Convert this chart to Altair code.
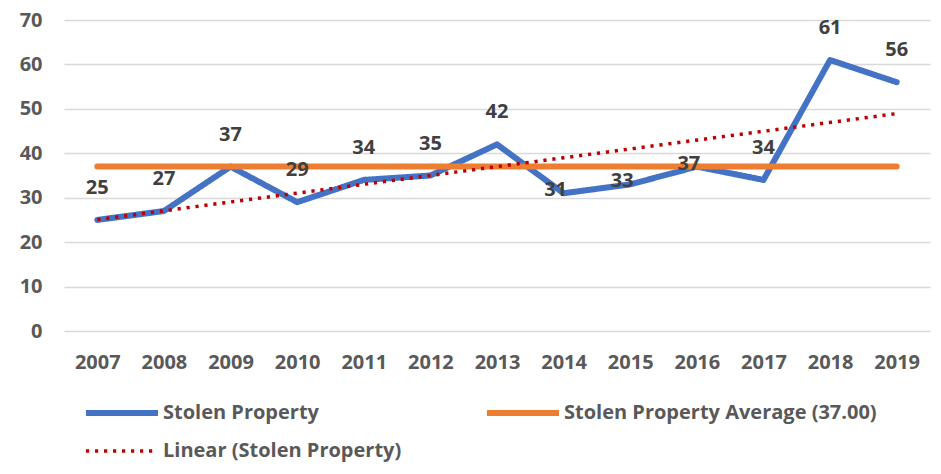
import altair as alt
import pandas as pd

years = [2007, 2008, 2009, 2010, 2011, 2012, 2013, 2014, 2015, 2016, 2017, 2018, 2019]
values = [25, 27, 37, 29, 34, 35, 42, 31, 33, 37, 34, 61, 56]
y_ticks = [0, 10, 20, 30, 40, 50, 60, 70]
series_names = ["Stolen Property", "Stolen Property Average (37.00)", "Linear (Stolen Property)"]
series_colors = ["#4472C4", "#ED7D31", "#C00000"]
series_dashes = [[1, 0], [1, 0], [3.2, 5.8]]
centered_label_years = [2014, 2015, 2016]

df = pd.DataFrame({"year": years, "value": values})

FONT = "Open Sans"
AXIS_GRAY = "#595959"
LABEL_GRAY = "#404040"

x_enc = alt.X(
    "year:Q",
    scale=alt.Scale(domain=[2006.5, 2019.5], nice=False, zero=False),
    axis=alt.Axis(
        values=years, format="d", grid=False, ticks=False, domain=False, title=None,
        labelFont=FONT, labelFontSize=20, labelFontWeight="bold", labelColor=AXIS_GRAY,
        labelPadding=21,
    ),
)
y_scale = alt.Scale(domain=[0, 70], nice=False)
y_axis = alt.Axis(
    values=y_ticks, title=None, ticks=False, domain=False,
    gridColor="#D9D9D9", gridWidth=1.5,
    labelFont=FONT, labelFontSize=20, labelFontWeight="bold", labelColor=AXIS_GRAY,
    labelPadding=22,
)

legend = alt.Legend(
    title=None, orient="none", legendX=48, legendY=383, columns=2, columnPadding=73,
    direction="horizontal", values=series_names,
    rowPadding=16, padding=0, symbolType="stroke", symbolSize=5184,
    symbolStrokeWidth={"expr": "datum.value === 'Linear (Stolen Property)' ? 3.5 : 6"},
    labelFont=FONT, labelFontSize=20, labelFontWeight="bold", labelColor=AXIS_GRAY,
    labelOffset=31, labelLimit=500,
)
color_enc = alt.Color("series:N", scale=alt.Scale(domain=series_names, range=series_colors), legend=legend)
dash_enc = alt.StrokeDash("series:N", scale=alt.Scale(domain=series_names, range=series_dashes), legend=legend)

base = alt.Chart(df)

actual = base.transform_calculate(series="'Stolen Property'").mark_line(
    strokeWidth=6, strokeCap="round", strokeJoin="round"
).encode(x=x_enc, y=alt.Y("value:Q", scale=y_scale, axis=y_axis), color=color_enc, strokeDash=dash_enc)

average = base.transform_joinaggregate(avg="mean(value)").transform_calculate(
    series="'Stolen Property Average (37.00)'"
).mark_line(strokeWidth=6, strokeCap="round").encode(
    x=x_enc, y=alt.Y("avg:Q", scale=y_scale, axis=y_axis), color=color_enc, strokeDash=dash_enc
)

trend = base.transform_regression("year", "value", method="linear").transform_calculate(
    series="'Linear (Stolen Property)'"
).mark_line(strokeWidth=3.5).encode(
    x=x_enc, y=alt.Y("value:Q", scale=y_scale, axis=y_axis), color=color_enc, strokeDash=dash_enc
)

text_style = dict(font=FONT, fontSize=20, fontWeight="bold", color=LABEL_GRAY)

labels_above = base.transform_filter(
    ~alt.FieldOneOfPredicate(field="year", oneOf=centered_label_years)
).mark_text(dy=-32, **text_style).encode(
    x=x_enc, y=alt.Y("value:Q", scale=y_scale, axis=y_axis), text="value:Q"
)
labels_center = base.transform_filter(
    alt.FieldOneOfPredicate(field="year", oneOf=centered_label_years)
).mark_text(dx=-8, dy=-3, **text_style).encode(
    x=x_enc, y=alt.Y("value:Q", scale=y_scale, axis=y_axis), text="value:Q"
)

chart = alt.layer(actual, average, trend, labels_above, labels_center).properties(
    width=866, height=311,
    padding={"left": 56, "top": 12, "right": 2, "bottom": 131},
    autosize=alt.AutoSizeParams(type="none"),
).configure_view(stroke=None)

chart.save("out.html", embed_options={"renderer": "svg", "actions": False})
